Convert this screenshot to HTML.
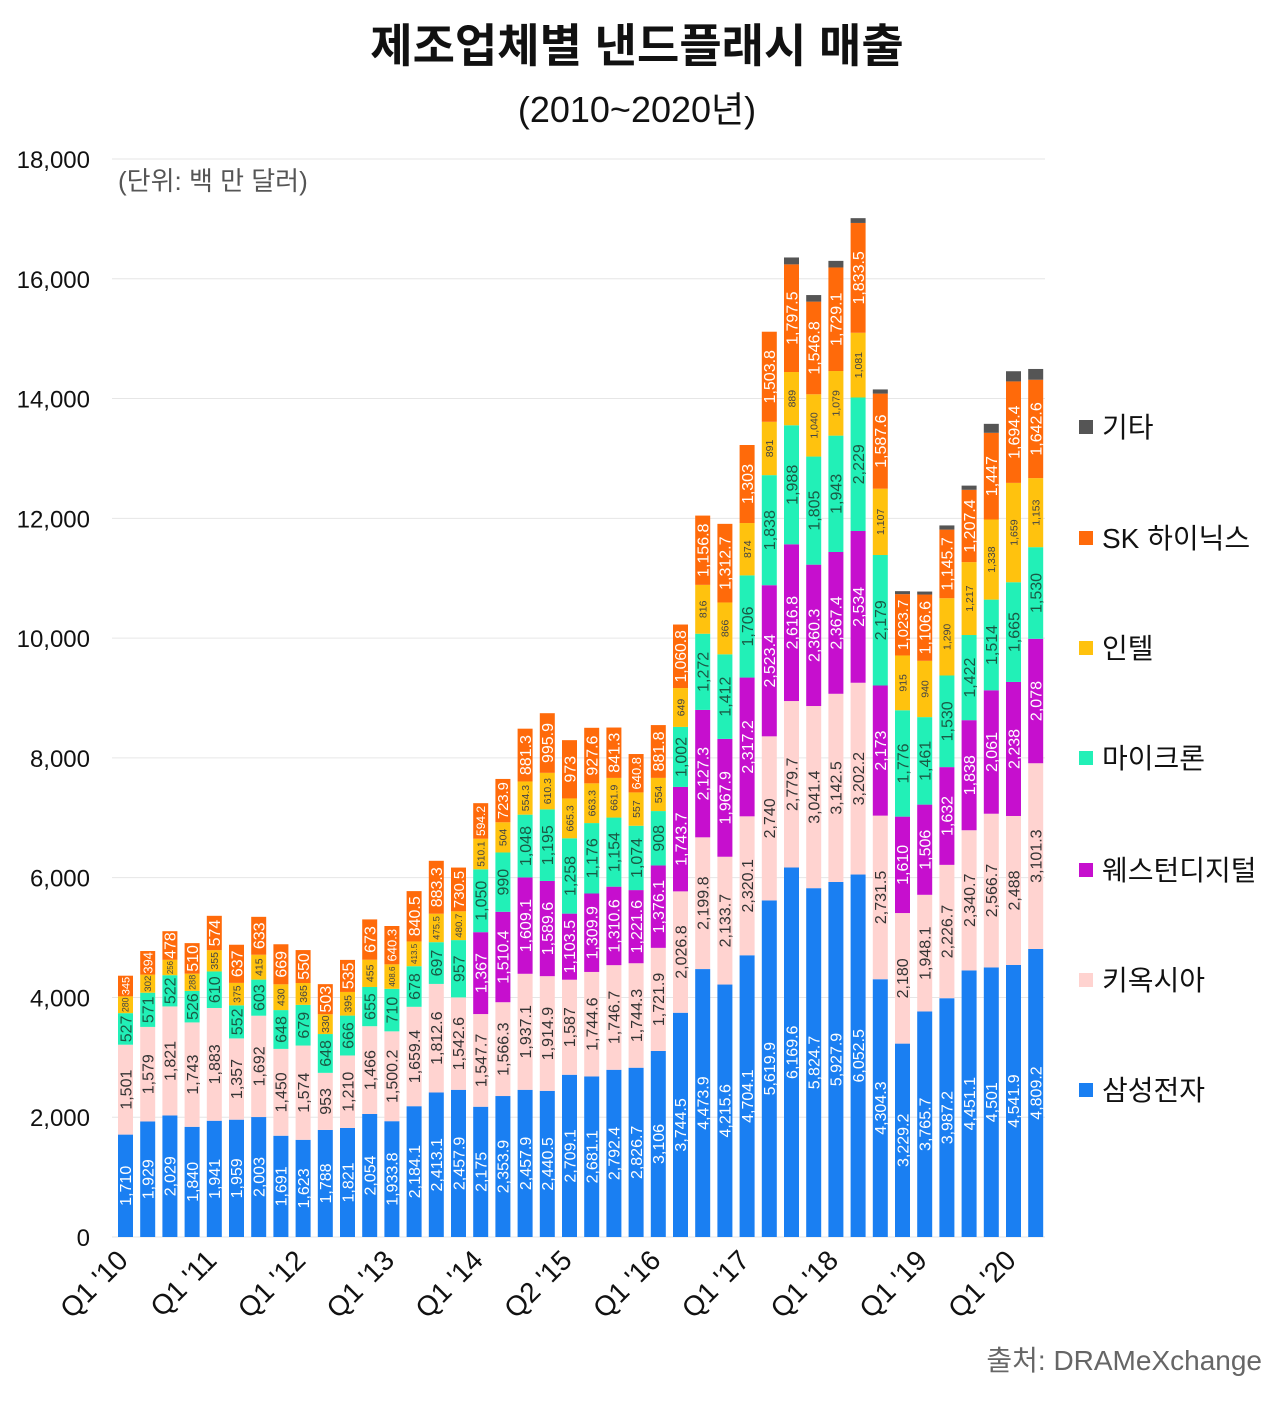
<!DOCTYPE html>
<html><head><meta charset="utf-8">
<style>
body{margin:0;background:#fff;width:1284px;height:1398px;overflow:hidden;font-family:"Liberation Sans","Noto Sans CJK KR",sans-serif;}
svg text{font-family:"Liberation Sans","Noto Sans CJK KR",sans-serif;}
</style></head>
<body>
<svg id="chart" width="1284" height="1398" xmlns="http://www.w3.org/2000/svg">
<text x="637" y="62" text-anchor="middle" font-size="46" font-weight="bold" fill="#111">제조업체별 낸드플래시 매출</text>
<text x="637" y="122" text-anchor="middle" font-size="36" fill="#111">(2010~2020년)</text>
<g id="grid"></g>
<text x="118" y="190" font-size="26" fill="#555">(단위: 백 만 달러)</text>
<g id="bars"></g>
<g id="xlabels"></g>
<g id="legend"></g>
<text x="1262" y="1370" text-anchor="end" font-size="28" fill="#666">출처: DRAMeXchange</text>
</svg>
<script>
const quarters = ["Q1 '10","","","","Q1 '11","","","","Q1 '12","","","","Q1 '13","","","","Q1 '14","","","","Q2 '15","","","","Q1 '16","","","","Q1 '17","","","","Q1 '18","","","","Q1 '19","","","","Q1 '20",""];
const samsung = [1710,1929,2029,1840,1941,1959,2003,1691,1623,1788,1821,2054,1933.8,2184.1,2413.1,2457.9,2175,2353.9,2457.9,2440.5,2709.1,2681.1,2792.4,2826.7,3106,3744.5,4473.9,4215.6,4704.1,5619.9,6169.6,5824.7,5927.9,6052.5,4304.3,3229.2,3765.7,3987.2,4451.1,4501,4541.9,4809.2];
const kioxia = [1501,1579,1821,1743,1883,1357,1692,1450,1574,953,1210,1466,1500.2,1659.4,1812.6,1542.6,1547.7,1566.3,1937.1,1914.9,1587,1744.6,1746.7,1744.3,1721.9,2026.8,2199.8,2133.7,2320.1,2740,2779.7,3041.4,3142.5,3202.2,2731.5,2180,1948.1,2226.7,2340.7,2566.7,2488,3101.3];
const wd = [0,0,0,0,0,0,0,0,0,0,0,0,0,0,0,0,1367,1510.4,1609.1,1589.6,1103.5,1309.9,1310.6,1221.6,1376.1,1743.7,2127.3,1967.9,2317.2,2523.4,2616.8,2360.3,2367.4,2534,2173,1610,1506,1632,1838,2061,2238,2078];
const micron = [527,571,522,526,610,552,603,648,679,648,666,655,710,678,697,957,1050,990,1048,1195,1258,1176,1154,1074,908,1002,1272,1412,1706,1838,1988,1805,1943,2229,2179,1776,1461,1530,1422,1514,1665,1530];
const intel = [280,302,256,288,355,375,415,430,365,330,395,455,408.6,413.5,475.5,480.7,510.1,504,554.3,610.3,665.3,663.3,661.9,557,554,649,816,866,874,891,889,1040,1079,1081,1107,915,940,1290,1217,1338,1659,1153];
const hynix = [345,394,478,510,574,637,633,669,550,503,535,673,640.3,840.5,883.3,730.5,594.2,723.9,881.3,995.9,973,927.6,841.3,640.8,881.8,1060.8,1156.8,1312.7,1303,1503.8,1797.5,1546.8,1729.1,1833.5,1587.6,1023.7,1106.6,1145.7,1207.4,1447,1694.4,1642.6];
const others = [0,0,0,0,0,0,0,0,0,0,0,0,0,0,0,0,0,0,0,0,0,0,0,0,0,0,0,0,0,0,115,110,110,80,70,50,50,70,70,150,170,180];
const yTicks = [0,2000,4000,6000,8000,10000,12000,14000,16000,18000];
const seriesNames = ["삼성전자","키옥시아","웨스턴디지털","마이크론","인텔","SK 하이닉스","기타"];

const NS="http://www.w3.org/2000/svg";
const x0=125.5, step=22.2, bw=15, yBase=1237, yTop=159, maxV=18000;
const xc=i=>x0+i*step;
const yv=v=>yBase-(v/maxV)*(yBase-yTop);
function mk(t,a){const e=document.createElementNS(NS,t);for(const k in a)e.setAttribute(k,a[k]);return e;}
const fmt=v=>v.toLocaleString('en-US',{maximumFractionDigits:1});

const grid=document.getElementById('grid');
yTicks.forEach(t=>{
  const l=mk('line',{x1:112,x2:1045,y1:yv(t),y2:yv(t),stroke:'#e6e6e6','stroke-width':1});
  
  
  grid.appendChild(l);
  const tx=mk('text',{x:90,y:yv(t)+9,'text-anchor':'end','font-size':24,fill:'#111'});
  
  
  tx.textContent=t.toLocaleString('en-US');grid.appendChild(tx);
});

const series=[samsung,kioxia,wd,micron,intel,hynix,others];
const colors=["#1a7ff2","#ffd3d0","#c60fce","#22f0b7","#ffc20e","#ff6a0a","#555555"];
const txtCol=["#fff","#333","#fff","#1a5a45","#444","#fff",null];
const keys=["samsung","kioxia","wd","micron","intel","hynix","others"];
const bars=document.getElementById('bars');
for(let i=0;i<quarters.length;i++){
  let acc=0;
  series.forEach((s,k)=>{
    const v=s[i]; if(!v) return;
    const y1=yv(acc), y2=yv(acc+v); acc+=v;
    const r=mk('rect',{x:xc(i)-bw/2,y:y2,width:bw,height:y1-y2,fill:colors[k]});
    
    
    bars.appendChild(r);
    if(txtCol[k]){
      const str=fmt(v);const h=y1-y2;
      let fs=k===4?10.5:16;
      const need=str.length*fs*0.56;
      if(need>h-2) fs=Math.max(7,(h-2)/(str.length*0.56));
      const cy=(y1+y2)/2;
      const t=mk('text',{x:xc(i)+fs*0.36,y:cy,'text-anchor':'middle','font-size':fs.toFixed(1),fill:txtCol[k],transform:`rotate(-90 ${xc(i)+fs*0.36} ${cy})`});
      
      
      t.textContent=str;bars.appendChild(t);
    }
  });
}
const xl=document.getElementById('xlabels');
quarters.forEach((q,i)=>{
  if(!q) return;
  const x=xc(i)+4,y=1262;
  const t=mk('text',{x:x,y:y,'text-anchor':'end','font-size':28,fill:'#111',transform:`rotate(-45 ${x} ${y})`});
  
  
  t.textContent=q;xl.appendChild(t);
});
const lg=document.getElementById('legend');
const legY=[1090,980,870,758,648,538,427];
seriesNames.forEach((n,k)=>{
  const g=mk('g',{});
  
  
  g.appendChild(mk('rect',{x:1079,y:legY[k]-7,width:14,height:14,fill:colors[k]}));
  const t=mk('text',{x:1102,y:legY[k]+10,'font-size':28,fill:'#111'});
  t.textContent=n;g.appendChild(t);lg.appendChild(g);
});
</script>
</body></html>
